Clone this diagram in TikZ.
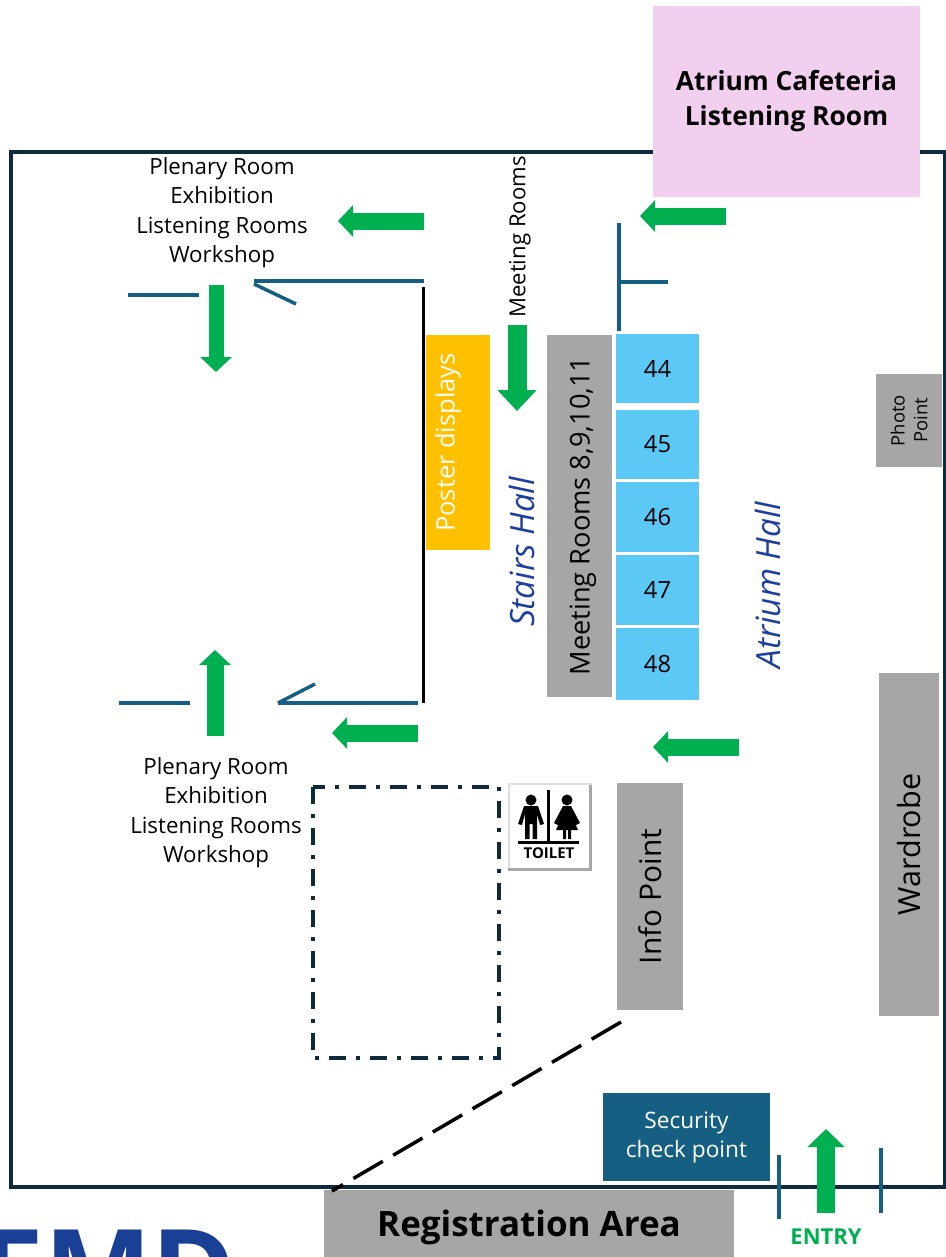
\documentclass[tikz,border=0pt]{standalone}
\usepackage{fontspec}
\setmainfont{Open Sans}
\usetikzlibrary{arrows.meta}

\def\px{0.02cm}
\definecolor{framenavy}{HTML}{0E2A3C}
\definecolor{doorblue}{HTML}{156082}
\definecolor{arrowgreen}{HTML}{00B050}
\definecolor{roomgray}{HTML}{A6A6A6}
\definecolor{roomcyan}{HTML}{5BC8F5}
\definecolor{roompink}{HTML}{F2CEEF}
\definecolor{posteryellow}{HTML}{FFC000}
\definecolor{hallblue}{HTML}{1F3F9F}
\definecolor{logoblue}{HTML}{1A4096}

\tikzset{
    roombox/.style={fill=roomgray,inner sep=0pt,align=center,text=black},
    doorline/.style={doorblue,line width=3.5*\px},
    flowarrow/.style={arrowgreen,line width=17*\px,-{Triangle[length=15*\px,width=31*\px]}},
    hallname/.style={text=hallblue,font=\fontsize{19}{20}\selectfont\itshape,rotate=90},
    roomlist/.style={align=center,font=\fontsize{12.7}{16.8}\selectfont}
}

\begin{document}
\begin{tikzpicture}[x=\px,y=-\px]
\clip (0,0) rectangle (946,1257);

% outer wall
\draw[framenavy,line width=4*\px] (11,152) rectangle (945,1187);

% rooms
\node[fill=roompink,minimum width=267*\px,minimum height=191*\px,inner sep=0pt,align=center,
    font=\fontsize{15}{20}\selectfont\bfseries] (cafeteria) at (786.5,101.5) {Atrium Cafeteria\\Listening Room};

\node[roombox,rotate=90,minimum width=362*\px,minimum height=65*\px] (meetingrooms) at (579.5,516) {};
\node[rotate=90,inner sep=0pt,font=\fontsize{15.5}{18}\selectfont] (meetingroomstext) at (583,516) {Meeting Rooms 8,9,10,11};

\foreach \n/\y/\h in {44/368.5/69,45/444.5/69,46/517/70,47/590/70,48/664/72}{
\node[fill=roomcyan,minimum width=83*\px,minimum height=\h*\px,inner sep=0pt,
    font=\fontsize{13.5}{16}\selectfont] (booth\n) at (657.5,\y) {\n};
}

\node[fill=posteryellow,rotate=90,minimum width=215*\px,minimum height=64*\px,inner sep=0pt] (poster) at (458,442.5) {};
\node[rotate=90,inner sep=0pt,text=white,font=\fontsize{14.5}{18}\selectfont] (postertext) at (448,442.5) {Poster displays};

\node[roombox,rotate=90,minimum width=93*\px,minimum height=66*\px,
    font=\fontsize{10.5}{13}\selectfont] (photo) at (909,420.5) {Photo\\Point};
\node[roombox,rotate=90,minimum width=343*\px,minimum height=60*\px,
    font=\fontsize{17.4}{18}\selectfont] (wardrobe) at (909,844.5) {Wardrobe};
\node[roombox,rotate=90,minimum width=227*\px,minimum height=66*\px,
    font=\fontsize{17}{18}\selectfont] (infopoint) at (650,896.5) {Info Point};
\node[fill=doorblue,minimum width=167*\px,minimum height=88*\px,inner sep=0pt,align=center,
    text=white,font=\fontsize{12.9}{16.5}\selectfont] (security) at (686.5,1137) {Security\\check point};
\node[roombox,minimum width=410*\px,minimum height=80*\px] (registration) at (529,1230) {};
\node[font=\fontsize{19.9}{20}\selectfont\bfseries] (registrationtext) at (529,1227) {Registration Area};

% walls and doors
\draw[line width=3*\px] (423,287) -- (423,703);
\draw[doorline] (128,295) -- (199,295);
\draw[doorline] (254,281) -- (424,281);
\draw[doorline] (254,284) -- (296,304);
\draw[doorline] (619,223) -- (619,331);
\draw[doorline] (619,282) -- (668,282);
\draw[doorline] (119,703) -- (190,703);
\draw[doorline] (278,703) -- (418,703);
\draw[doorline] (278,703) -- (315,684);
\draw[doorline] (779,1155) -- (779,1219);
\draw[doorline] (881,1148) -- (881,1213);

% toilet block
\draw[framenavy,line width=3.5*\px,dash pattern=on 17*\px off 10*\px on 4*\px off 10*\px] (313,787) rectangle (499,1058);

\node[fill=gray!25,minimum width=84*\px,minimum height=88*\px,inner sep=0pt] (toiletsign) at (550,827) {};
\fill[gray!70] (589,785) rectangle (592,871);
\fill[gray!70] (508,868) rectangle (592,871);
\fill[white] (510,785) rectangle (589,868);
\fill (531,800) circle (5.5*\px);
\fill (567,800) circle (5.5*\px);
\fill (524,806) -- (538,806) -- (544,824) -- (540,825) -- (537,814) -- (537,839) -- (532.5,839) -- (532.5,824) -- (529.5,824) -- (529.5,839) -- (525,839) -- (525,814) -- (522,825) -- (518,824) -- cycle;
\fill (563,806) -- (571,806) -- (580,823) -- (576,825) -- (571,814) -- (578,830) -- (571,830) -- (571,839) -- (568,839) -- (568,830) -- (566,830) -- (566,839) -- (563,839) -- (563,830) -- (556,830) -- (563,814) -- (558,825) -- (554,823) -- cycle;
\draw[line width=3*\px] (548,790) -- (548,843);
\draw[line width=3*\px] (518,842) -- (579,842);
\node[font=\fontsize{8.5}{9}\selectfont\bfseries,inner sep=0pt] (toilettext) at (549,853) {TOILET};

% registration queue
\coordinate (queuetop) at (621,1022);
\coordinate (queueend) at (332,1191);
\draw[line width=3.5*\px,dash pattern=on 34*\px off 12*\px] (queuetop) -- (queueend);

% way finding
\foreach \xa/\ya/\xb/\yb in {424/221/338/221,726/216/640/216,215/736/215/650,
    418/733/332/733,739/747/653/747}{
\draw[flowarrow] (\xa,\ya) -- (\xb,\yb);
}
\draw[flowarrow,line width=15*\px] (216,285) -- (216,372);
\draw[flowarrow,line width=19*\px,-{Triangle[length=21*\px,width=38*\px]}] (517,325) -- (517,411);
\draw[flowarrow,line width=18*\px,-{Triangle[length=18*\px,width=36*\px]}] (826,1213) -- (826,1129);

% labels
\node[roomlist] (upperlist) at (222,212.5) {Plenary Room\\Exhibition\\Listening Rooms\\Workshop};
\node[roomlist] (lowerlist) at (216,812.5) {Plenary Room\\Exhibition\\Listening Rooms\\Workshop};
\node[rotate=90,font=\fontsize{12.6}{14}\selectfont] (meetinglabel) at (520,237) {Meeting Rooms};
\node[hallname] (stairs) at (522,552) {Stairs Hall};
\node[hallname] (atrium) at (768,585) {Atrium Hall};
\node[text=arrowgreen,font=\fontsize{12.5}{14}\selectfont\bfseries] (entry) at (826,1237) {ENTRY};

% logo
\node[anchor=base west,inner sep=0pt,text=logoblue,font=\fontsize{65}{70}\selectfont\bfseries] (logo) at (-20,1311) {EMD};
\end{tikzpicture}
\end{document}
